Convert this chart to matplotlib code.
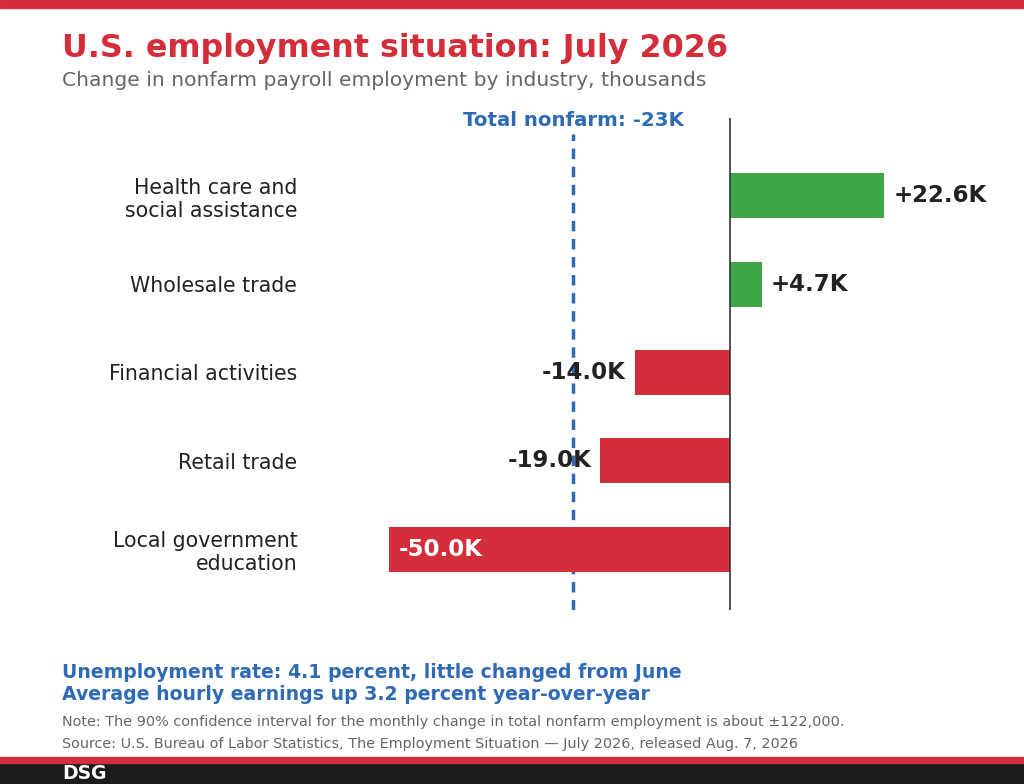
import matplotlib.pyplot as plt
from matplotlib.patches import Rectangle

# data (thousands)
industries = ['Health care and\nsocial assistance', 'Wholesale trade', 'Financial activities',
              'Retail trade', 'Local government\neducation']
changes = [22.6, 4.7, -14.0, -19.0, -50.0]
total_nonfarm = -23

RED = '#d42e3a'
GREEN = '#3fa648'
BLUE = '#2f6ab5'
DARK = '#222222'
GRAY = '#666666'

fig = plt.figure(figsize=(10.24, 7.84), dpi=100)

# top band, bottom band
fig.add_artist(Rectangle((0, 1 - 8 / 784), 1, 8 / 784, transform=fig.transFigure, color=RED, zorder=0))
fig.add_artist(Rectangle((0, 0), 1, 21 / 784, transform=fig.transFigure, color='#1c1c1c', zorder=0))
fig.add_artist(Rectangle((0, 21 / 784), 1, 6 / 784, transform=fig.transFigure, color=RED, zorder=0))

fig.text(62 / 1024, 1 - 48 / 784, 'U.S. employment situation: July 2026', color=RED,
         fontsize=22.9, fontweight='bold', va='center', ha='left')
fig.text(62 / 1024, 1 - 80 / 784, 'Change in nonfarm payroll employment by industry, thousands',
         color=GRAY, fontsize=14.6, va='center', ha='left')

ax = fig.add_axes([307 / 1024, 174 / 784, 696 / 1024, 492 / 784])
ypos = list(range(len(industries)))
colors = [GREEN if v > 0 else RED for v in changes]
ax.barh(ypos, changes, height=0.51, color=colors, zorder=2)
ax.set_xlim(-62, 40)
ax.set_ylim(4.69, -0.88)
ax.axvline(0, color='#333333', lw=1.2, zorder=3)
ax.plot([total_nonfarm, total_nonfarm], [4.69, -0.7], color=BLUE, lw=2.5, ls=(0, (3, 2.2)), zorder=1)
ax.text(total_nonfarm, -0.85, 'Total nonfarm: -23K', color=BLUE, fontsize=14.2, fontweight='bold',
        ha='center', va='center')

for y, v in zip(ypos, changes):
    lab = ('+' if v > 0 else '') + '%.1fK' % v
    if v > 0:
        ax.text(v + 1.3, y, lab, ha='left', va='center', fontsize=16.5, fontweight='bold', color=DARK)
    elif v < -40:
        ax.text(v + 1.5, y, lab, ha='left', va='center', fontsize=16.5, fontweight='bold', color='white', zorder=4)
    else:
        ax.text(v - 1.3, y, lab, ha='right', va='center', fontsize=16.5, fontweight='bold', color=DARK, zorder=4)

ax.set_yticks(ypos)
ax.set_yticklabels(industries, fontsize=14.8, color=DARK)
ax.tick_params(axis='y', length=0, pad=7)
ax.set_xticks([])
for s in ax.spines.values():
    s.set_visible(False)

fig.text(62 / 1024, 1 - 672 / 784, 'Unemployment rate: 4.1 percent, little changed from June',
         color=BLUE, fontsize=13.6, fontweight='bold', va='center')
fig.text(62 / 1024, 1 - 695 / 784, 'Average hourly earnings up 3.2 percent year-over-year',
         color=BLUE, fontsize=13.6, fontweight='bold', va='center')
fig.text(62 / 1024, 1 - 722 / 784,
         'Note: The 90% confidence interval for the monthly change in total nonfarm employment is about \u00b1122,000.',
         color=GRAY, fontsize=10.36, va='center')
fig.text(62 / 1024, 1 - 744 / 784,
         'Source: U.S. Bureau of Labor Statistics, The Employment Situation \u2014 July 2026, released Aug. 7, 2026',
         color=GRAY, fontsize=10.36, va='center')
fig.text(62 / 1024, 10.5 / 784, 'DSG', color='white', fontsize=13.5, fontweight='bold', va='center')

fig.savefig('out.png', dpi=100)
